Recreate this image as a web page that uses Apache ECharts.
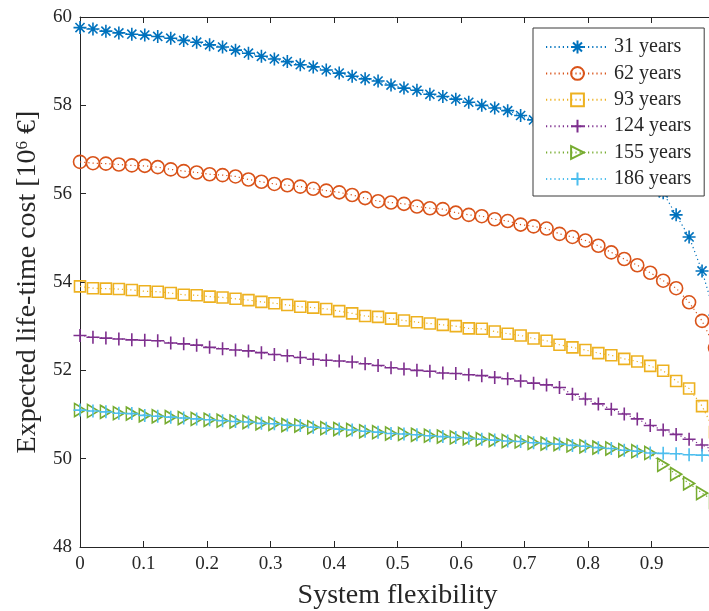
<!DOCTYPE html>
<html>
<head>
<meta charset="utf-8">
<script src="https://cdn.jsdelivr.net/npm/echarts@6/dist/echarts.min.js"></script>
<style>
  html, body { margin: 0; padding: 0; background: #fff; }
  #chart { width: 709px; height: 611px; }
</style>
</head>
<body>
<div id="chart"></div>
<script>
// Sampled system flexibility (x) — 50 evenly spaced samples from 0 to 1
var flexibility = [0, 0.0204, 0.0408, 0.0612, 0.0816, 0.1020, 0.1224, 0.1429, 0.1633, 0.1837,
  0.2041, 0.2245, 0.2449, 0.2653, 0.2857, 0.3061, 0.3265, 0.3469, 0.3673, 0.3878,
  0.4082, 0.4286, 0.4490, 0.4694, 0.4898, 0.5102, 0.5306, 0.5510, 0.5714, 0.5918,
  0.6122, 0.6327, 0.6531, 0.6735, 0.6939, 0.7143, 0.7347, 0.7551, 0.7755, 0.7959,
  0.8163, 0.8367, 0.8571, 0.8776, 0.8980, 0.9184, 0.9388, 0.9592, 0.9796, 1.0];

var seriesNames = ['31 years', '62 years', '93 years', '124 years', '155 years', '186 years'];

// Expected life-time cost [10^6 EUR] per life-time horizon
var cost31 = [59.76, 59.73, 59.68, 59.64, 59.61, 59.59, 59.56, 59.52, 59.47, 59.43,
  59.37, 59.32, 59.25, 59.18, 59.11, 59.05, 58.99, 58.92, 58.87, 58.80,
  58.73, 58.66, 58.60, 58.55, 58.46, 58.39, 58.34, 58.25, 58.20, 58.14,
  58.07, 58.00, 57.94, 57.88, 57.77, 57.67, 57.57, 57.47, 57.35, 57.23,
  57.09, 56.94, 56.75, 56.55, 56.30, 56.02, 55.52, 55.02, 54.25, 53.25];
var cost62 = [56.72, 56.69, 56.68, 56.66, 56.64, 56.63, 56.60, 56.55, 56.51, 56.48,
  56.44, 56.42, 56.39, 56.32, 56.27, 56.22, 56.19, 56.16, 56.11, 56.07,
  56.03, 55.97, 55.90, 55.83, 55.80, 55.77, 55.71, 55.67, 55.65, 55.57,
  55.52, 55.49, 55.42, 55.38, 55.30, 55.26, 55.21, 55.09, 55.02, 54.94,
  54.82, 54.67, 54.52, 54.38, 54.21, 54.03, 53.86, 53.54, 53.12, 52.51];
var cost93 = [53.90, 53.86, 53.85, 53.84, 53.82, 53.79, 53.78, 53.75, 53.71, 53.70,
  53.67, 53.65, 53.62, 53.59, 53.55, 53.52, 53.48, 53.44, 53.42, 53.39,
  53.34, 53.29, 53.23, 53.21, 53.17, 53.13, 53.09, 53.06, 53.03, 53.00,
  52.95, 52.94, 52.88, 52.83, 52.79, 52.72, 52.67, 52.58, 52.52, 52.46,
  52.39, 52.34, 52.26, 52.20, 52.10, 51.99, 51.76, 51.59, 51.19, 50.60];
var cost124 = [52.79, 52.75, 52.73, 52.71, 52.69, 52.68, 52.67, 52.62, 52.60, 52.57,
  52.52, 52.49, 52.46, 52.44, 52.40, 52.36, 52.33, 52.29, 52.25, 52.23,
  52.21, 52.19, 52.15, 52.11, 52.06, 52.03, 52.00, 51.98, 51.94, 51.93,
  51.90, 51.88, 51.84, 51.81, 51.76, 51.71, 51.67, 51.61, 51.46, 51.35,
  51.24, 51.12, 51.01, 50.90, 50.75, 50.65, 50.55, 50.44, 50.31, 50.18];
var cost155 = [51.10, 51.08, 51.06, 51.03, 51.02, 50.98, 50.96, 50.94, 50.92, 50.90,
  50.88, 50.86, 50.84, 50.83, 50.80, 50.79, 50.76, 50.75, 50.71, 50.69,
  50.67, 50.65, 50.62, 50.60, 50.57, 50.56, 50.54, 50.52, 50.50, 50.48,
  50.46, 50.44, 50.42, 50.40, 50.39, 50.36, 50.34, 50.33, 50.30, 50.28,
  50.25, 50.23, 50.19, 50.17, 50.13, 49.86, 49.65, 49.44, 49.22, 49.03];
var cost186 = [51.10, 51.08, 51.06, 51.03, 51.02, 50.98, 50.96, 50.94, 50.92, 50.90,
  50.88, 50.86, 50.84, 50.83, 50.80, 50.79, 50.76, 50.75, 50.71, 50.69,
  50.67, 50.65, 50.62, 50.60, 50.57, 50.56, 50.54, 50.52, 50.50, 50.48,
  50.46, 50.44, 50.42, 50.40, 50.39, 50.36, 50.34, 50.33, 50.30, 50.28,
  50.25, 50.23, 50.19, 50.17, 50.13, 50.12, 50.11, 50.09, 50.08, 50.07];

var xTicks = [0, 0.1, 0.2, 0.3, 0.4, 0.5, 0.6, 0.7, 0.8, 0.9, 1];
var yTicks = [48, 50, 52, 54, 56, 58, 60];

var allCosts = [cost31, cost62, cost93, cost124, cost155, cost186];
var colors = ['#0072BD', '#D95319', '#EDB120', '#7E2F8E', '#77AC30', '#4DBEEE'];

// Marker shapes: asterisk, circle, square, plus, right triangle, plus
var ASTERISK = 'path://M5,0L5,10M0,5L10,5M1.5,1.5L8.5,8.5M8.5,1.5L1.5,8.5';
var PLUS = 'path://M5,0L5,10M0,5L10,5';
var TRI_RIGHT = 'path://M0,0L10,6L0,12Z';
var markers = [
  { symbol: ASTERISK, size: 13 },
  { symbol: 'circle', size: 13 },
  { symbol: 'rect', size: 11 },
  { symbol: PLUS, size: 13 },
  { symbol: TRI_RIGHT, size: [11, 13] },
  { symbol: PLUS, size: 13 }
];

var AXIS_COLOR = '#262626';
var FONT = '"Liberation Serif", "Times New Roman", serif';

var series = allCosts.map(function (vals, k) {
  return {
    name: seriesNames[k],
    type: 'line',
    data: vals.map(function (v, i) { return [flexibility[i], v]; }),
    symbol: markers[k].symbol,
    symbolSize: markers[k].size,
    showAllSymbol: true,
    animation: false,
    lineStyle: { color: colors[k], width: 1.2, type: [1.2, 3] },
    itemStyle: { color: 'rgba(255,255,255,0)', borderColor: colors[k], borderWidth: 1.6 },
    emphasis: { disabled: true }
  };
});

var chart = echarts.init(document.getElementById('chart'), null, { renderer: 'canvas' });
chart.setOption({
  backgroundColor: '#ffffff',
  animation: false,
  grid: { left: 80, top: 17, width: 635, height: 530, containLabel: false, outerBoundsMode: 'none' },
  legend: {
    data: seriesNames,
    orient: 'vertical',
    left: 533,
    top: 28,
    padding: [9, 13, 7, 12],
    itemWidth: 63,
    itemHeight: 16,
    itemGap: 6.4,
    backgroundColor: '#ffffff',
    borderColor: '#3a3a3a',
    borderWidth: 1,
    textStyle: { fontFamily: FONT, fontSize: 20, color: AXIS_COLOR, lineHeight: 20 }
  },
  xAxis: [{
    type: 'value',
    min: xTicks[0],
    max: xTicks[xTicks.length - 1],
    interval: 0.1,
    name: 'System flexibility',
    nameLocation: 'middle',
    nameGap: 35,
    nameTextStyle: { fontFamily: FONT, fontSize: 28, color: AXIS_COLOR },
    axisLine: { lineStyle: { color: AXIS_COLOR, width: 1 } },
    axisTick: { inside: true, length: 6, lineStyle: { color: AXIS_COLOR } },
    axisLabel: { fontFamily: FONT, fontSize: 19, color: AXIS_COLOR, margin: 8 },
    splitLine: { show: false }
  }, {
    type: 'value',
    position: 'top',
    min: xTicks[0],
    max: xTicks[xTicks.length - 1],
    interval: 0.1,
    axisLine: { onZero: false, lineStyle: { color: AXIS_COLOR, width: 1 } },
    axisTick: { inside: true, length: 6, lineStyle: { color: AXIS_COLOR } },
    axisLabel: { show: false },
    splitLine: { show: false }
  }],
  yAxis: [{
    type: 'value',
    min: yTicks[0],
    max: yTicks[yTicks.length - 1],
    interval: 2,
    name: 'Expected life-time cost [10{sup|6} €]',
    nameLocation: 'middle',
    nameGap: 36,
    nameTextStyle: {
      fontFamily: FONT, fontSize: 28, color: AXIS_COLOR,
      rich: { sup: { fontFamily: FONT, fontSize: 17, color: AXIS_COLOR, padding: [0, 0, 12, 0] } }
    },
    axisLine: { lineStyle: { color: AXIS_COLOR, width: 1 } },
    axisTick: { inside: true, length: 6, lineStyle: { color: AXIS_COLOR } },
    axisLabel: { fontFamily: FONT, fontSize: 19, color: AXIS_COLOR, margin: 8 },
    splitLine: { show: false }
  }, {
    type: 'value',
    position: 'right',
    min: yTicks[0],
    max: yTicks[yTicks.length - 1],
    interval: 2,
    axisLine: { onZero: false, lineStyle: { color: AXIS_COLOR, width: 1 } },
    axisTick: { inside: true, length: 6, lineStyle: { color: AXIS_COLOR } },
    axisLabel: { show: false },
    splitLine: { show: false }
  }],
  series: series
});
</script>
</body>
</html>
